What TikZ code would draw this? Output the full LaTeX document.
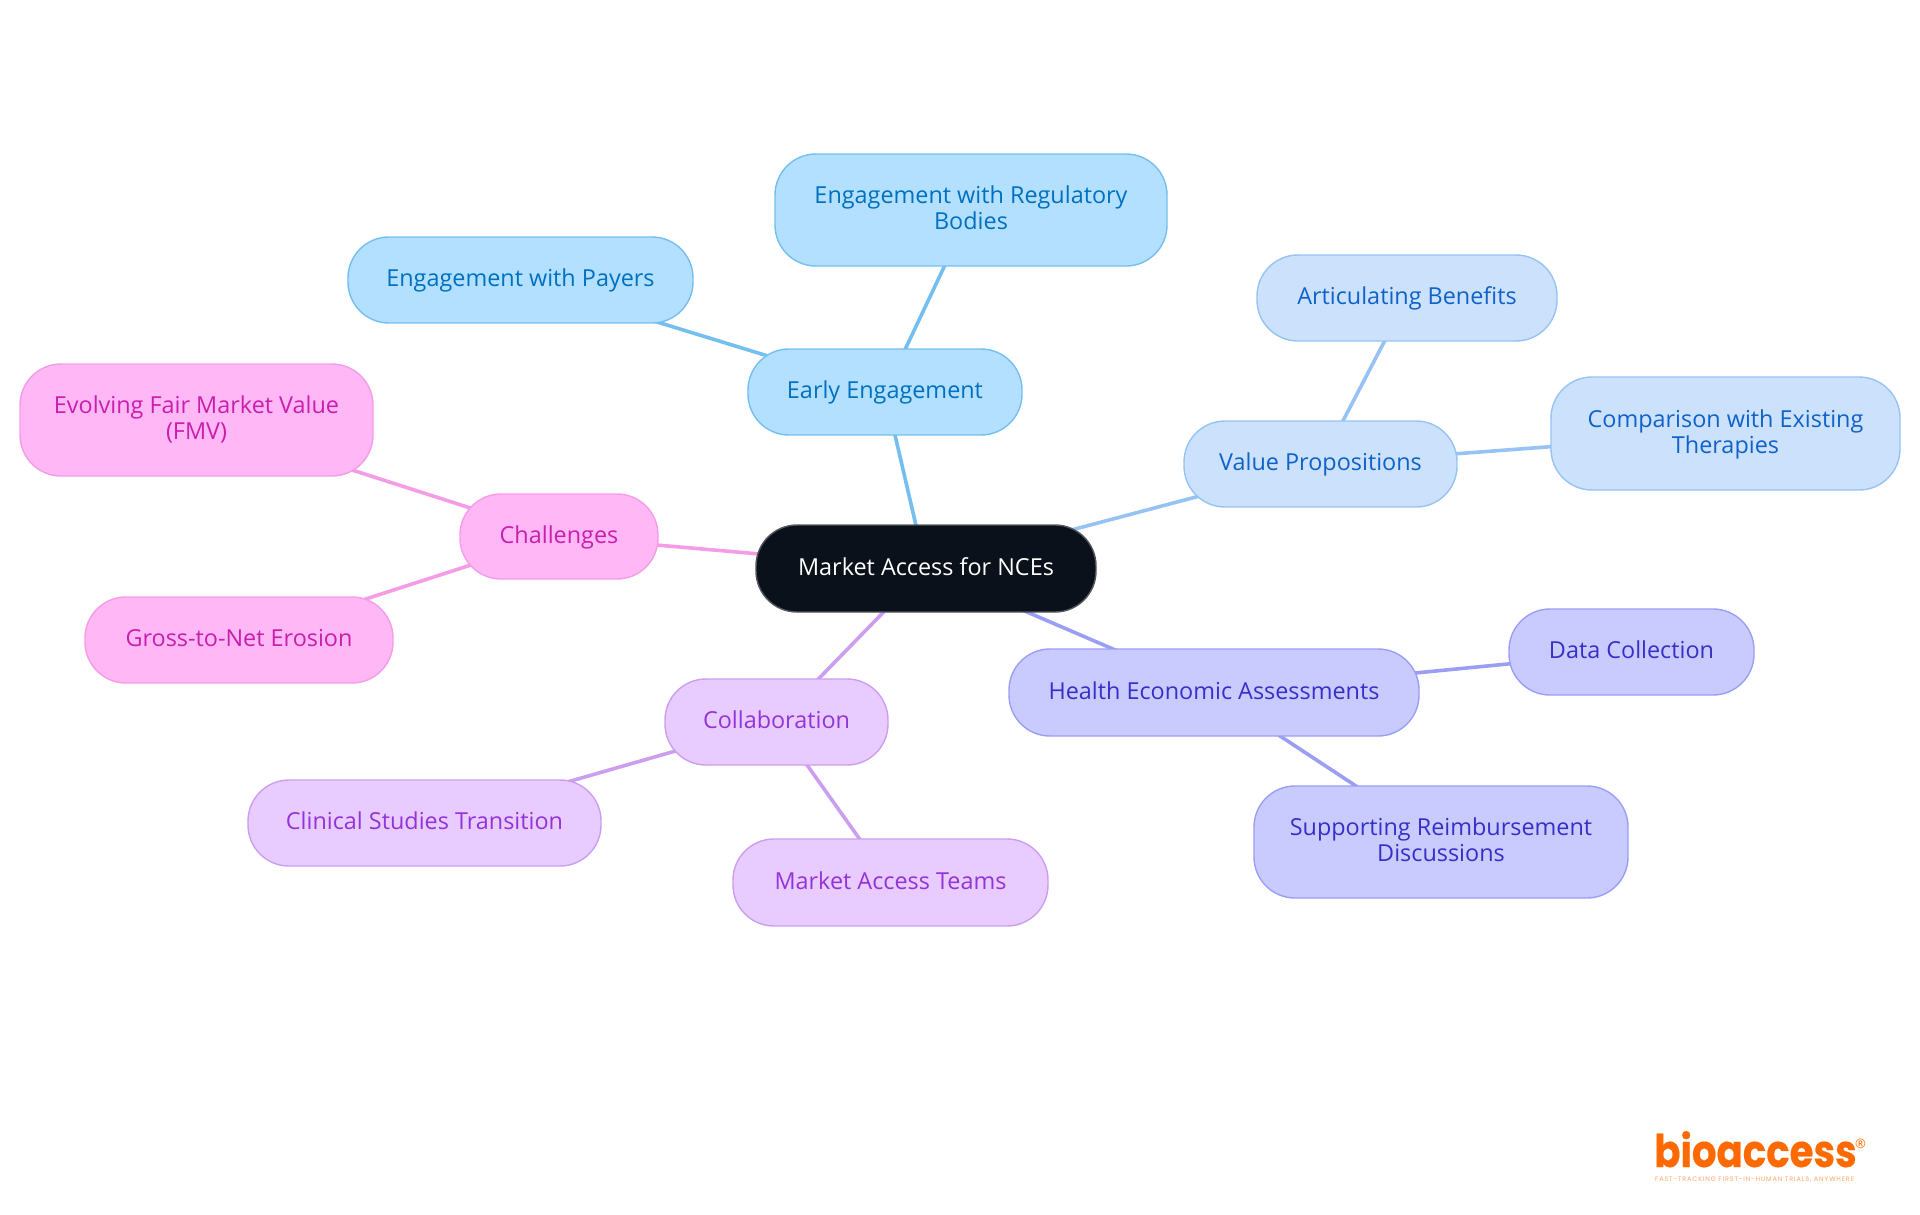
\documentclass[tikz,border=0pt]{standalone}
\usepackage{fontspec}
\setmainfont{Open Sans}
\newfontfamily\logofont[FakeStretch=0.86,BoldFeatures={FakeBold=0.4}]{Poppins}
\newfontfamily\tagfont[LetterSpace=13]{Poppins}
\usetikzlibrary{backgrounds}
\definecolor{skyF}{HTML}{B3E0FF}\definecolor{skyD}{HTML}{74BFF0}\definecolor{skyT}{HTML}{0070C0}
\definecolor{bluF}{HTML}{CCE2FC}\definecolor{bluD}{HTML}{96C3F3}\definecolor{bluT}{HTML}{0F62C9}
\definecolor{indF}{HTML}{C9CBFF}\definecolor{indD}{HTML}{9B9EF5}\definecolor{indT}{HTML}{3730C8}
\definecolor{purF}{HTML}{E8CCFF}\definecolor{purD}{HTML}{CB9EF0}\definecolor{purT}{HTML}{9333D9}
\definecolor{pinF}{HTML}{FFB8F5}\definecolor{pinD}{HTML}{F59CE6}\definecolor{pinT}{HTML}{C91EAE}
\definecolor{rootF}{HTML}{0B111A}\definecolor{logoC}{HTML}{FF6A00}
\tikzset{x=1pt,y=-1pt,
 box/.style={rectangle,rounded corners=41pt,line width=1.4pt,inner sep=0pt,align=center,text height=18pt,text depth=5pt,font=\fontsize{23.4}{26}\selectfont},
 two/.style={text height=44pt,text depth=5pt},
 skybox/.style={box,fill=skyF,draw=skyD,text=skyT},
 blubox/.style={box,fill=bluF,draw=bluD,text=bluT},
 indbox/.style={box,fill=indF,draw=indD,text=indT},
 purbox/.style={box,fill=purF,draw=purD,text=purT},
 pinbox/.style={box,fill=pinF,draw=pinD,text=pinT},
 rootbox/.style={box,fill=rootF,draw=rootF!70!white,text=white},
 link/.style={line width=3.6pt}}
\newcommand{\placebox}[7]{\node[#1,minimum width=#5pt-#3pt,minimum height=#6pt-#4pt] (#2) at ({(#3+#5)/2},{(#4+#6)/2}) {#7};}
\begin{document}
\begin{tikzpicture}
\useasboundingbox (0,0) rectangle (1920,1215);
\placebox{rootbox}{root}{756}{525}{1096}{612}{Market Access for NCEs}
\placebox{skybox}{early}{748}{349}{1022}{435}{Early Engagement}
\placebox{skybox,two}{regul}{775}{154}{1167}{266}{Engagement with Regulatory\\Bodies}
\placebox{skybox}{payer}{348}{237}{693}{323}{Engagement with Payers}
\placebox{blubox}{value}{1184}{421}{1457}{507}{Value Propositions}
\placebox{blubox}{artic}{1257}{255}{1557}{341}{Articulating Benefits}
\placebox{blubox,two}{compa}{1551}{377}{1900}{490}{Comparison with Existing\\Therapies}
\placebox{indbox}{healt}{1009}{649}{1419}{736}{Health Economic Assessments}
\placebox{indbox}{datac}{1509}{609}{1754}{695}{Data Collection}
\placebox{indbox,two}{suppo}{1254}{786}{1628}{898}{Supporting Reimbursement\\Discussions}
\placebox{purbox}{colla}{665}{679}{888}{765}{Collaboration}
\placebox{purbox}{clini}{248}{780}{601}{866}{Clinical Studies Transition}
\placebox{purbox}{teams}{733}{839}{1048}{926}{Market Access Teams}
\placebox{pinbox}{chall}{460}{494}{658}{579}{Challenges}
\placebox{pinbox,two}{evolv}{20}{364}{373}{476}{Evolving Fair Market Value\\(FMV)}
\placebox{pinbox}{gross}{85}{597}{393}{683}{Gross-to-Net Erosion}
\begin{scope}[on background layer]
\draw[link,skyD] (root.center) -- (early.center);
\draw[link,skyD] (early.center) -- (regul.center);
\draw[link,skyD] (early.center) -- (payer.center);
\draw[link,bluD] (root.center) -- (value.center);
\draw[link,bluD] (value.center) -- (artic.center);
\draw[link,bluD] (value.center) -- (compa.center);
\draw[link,indD] (root.center) -- (healt.center);
\draw[link,indD] (healt.center) -- (datac.center);
\draw[link,indD] (healt.center) -- (suppo.center);
\draw[link,purD] (root.center) -- (colla.center);
\draw[link,purD] (colla.center) -- (clini.center);
\draw[link,purD] (colla.center) -- (teams.center);
\draw[link,pinD] (root.center) -- (chall.center);
\draw[link,pinD] (chall.center) -- (evolv.center);
\draw[link,pinD] (chall.center) -- (gross.center);
\end{scope}
\node[anchor=base west,inner sep=0pt,text=logoC,font=\logofont\bfseries\fontsize{45}{45}\selectfont] (logo) at (1654,1167) {bioaccess};
\node[anchor=base west,inner sep=0pt,text=logoC,font=\fontsize{13}{13}\selectfont] (reg) at (1855,1148) {®};
\node[anchor=base west,inner sep=0pt,text=logoC!60!white,font=\tagfont\fontsize{6.5}{7}\selectfont] (tag) at (1655,1181) {FAST-TRACKING FIRST-IN-HUMAN TRIALS, ANYWHERE};
\end{tikzpicture}
\end{document}
